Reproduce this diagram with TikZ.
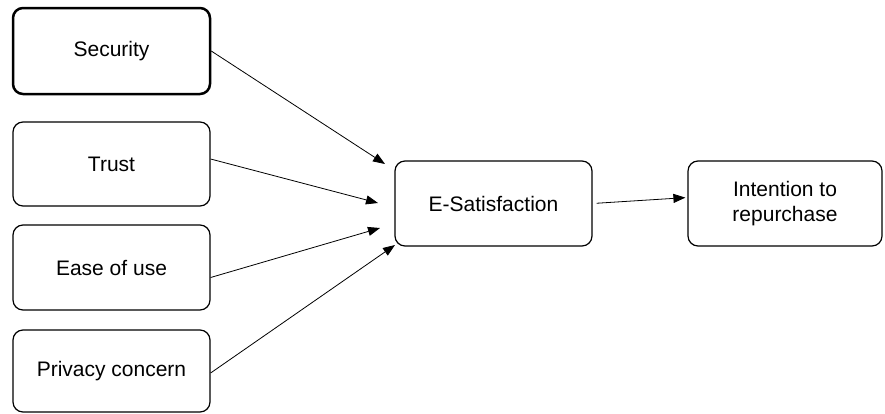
\documentclass[tikz,border=0pt]{standalone}
\usepackage{fontspec}
\setmainfont{Liberation Sans}
\usetikzlibrary{arrows.meta}

\tikzset{
    box/.style={draw, rounded corners=10pt, line width=1.2pt, minimum width=197pt,
        minimum height=85pt, align=center, font=\fontsize{21}{25}\selectfont},
    arr/.style={line width=0.8pt, -{Triangle[length=12pt,width=9pt]}}
}

\begin{document}
\begin{tikzpicture}[x=1pt,y=-1pt]
    \useasboundingbox (0,0) rectangle (885,413);
    \node[box, line width=2.5pt, minimum height=86pt] (sec) at (111.5,51) {Security};
    \node[box, minimum height=84pt] (trust) at (111.5,164) {Trust};
    \node[box] (ease) at (111.5,267.5) {Ease of use};
    \node[box, minimum height=82pt] (priv) at (111.5,371) {Privacy concern};
    \node[box] (esat) at (493.5,203.5) {E-Satisfaction};
    \node[box, minimum width=194pt] (int) at (785,203.5) {Intention to\\repurchase};
    \coordinate (in1) at (385,164);
    \coordinate (in2) at (378,203);
    \coordinate (in3) at (380,228);
    \coordinate (in4) at (395,245);
    \draw[arr] (sec.east) -- (in1);
    \draw[arr] ([yshift=5pt]trust.east) -- (in2);
    \draw[arr] ([yshift=-10pt]ease.east) -- (in3);
    \draw[arr] ([yshift=-2pt]priv.east) -- (in4);
    \draw[arr, shorten <=4pt, shorten >=2pt] (esat.east) -- ([yshift=6pt]int.west);
\end{tikzpicture}
\end{document}
